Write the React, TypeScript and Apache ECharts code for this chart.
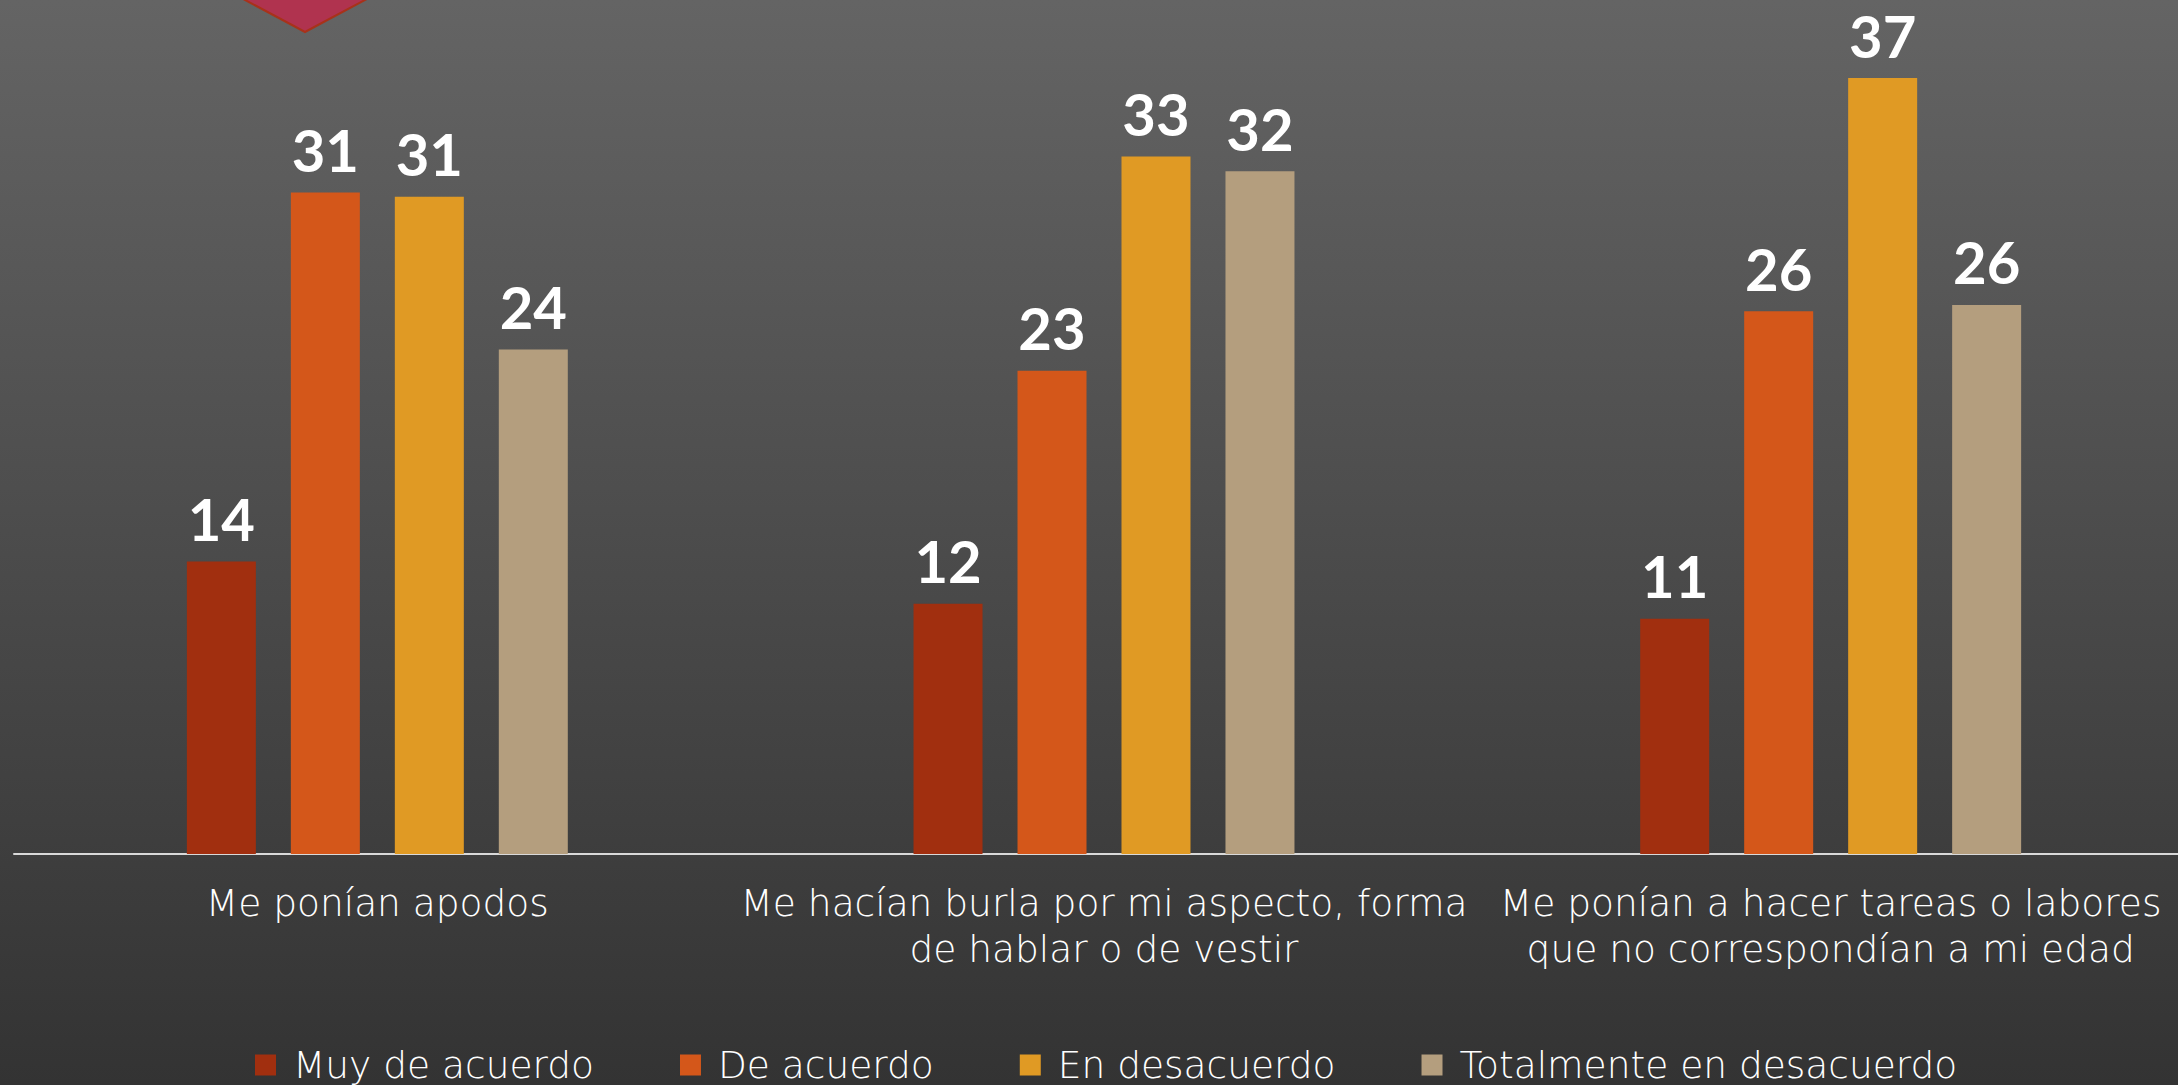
import React, { useEffect, useRef } from "react";
import * as echarts from "echarts";

const categories = [
  "Me ponían apodos",
  "Me hacían burla por mi aspecto, forma\nde hablar o de vestir",
  "Me ponían a hacer tareas o labores\nque no correspondían a mi edad",
];
const seriesNames = ["Muy de acuerdo", "De acuerdo", "En desacuerdo", "Totalmente en desacuerdo"];
const muyDeAcuerdo = [13.8, 11.8, 11.1];
const deAcuerdo = [31.2, 22.8, 25.6];
const enDesacuerdo = [31.0, 32.9, 36.6];
const totalmenteEnDesacuerdo = [23.8, 32.2, 25.9];
const seriesColors = ["#A12F0F", "#D4571A", "#E09A24", "#B49E7E"];

export default function App() {
  const ref = useRef<HTMLDivElement>(null);
  useEffect(() => {
    if (!ref.current) return;
    const chart = echarts.init(ref.current, null, { renderer: "svg" });
    const values = [muyDeAcuerdo, deAcuerdo, enDesacuerdo, totalmenteEnDesacuerdo];
    const series = seriesNames.map((name, i) => ({
      name,
      type: "bar",
      data: values[i],
      barWidth: 69,
      barGap: "50.7%",
      itemStyle: { color: seriesColors[i] },
      label: {
        show: true,
        position: "top",
        distance: 14,
        color: "#FFFFFF",
        fontFamily: "Lato",
        fontWeight: "bold",
        fontSize: 58,
        lineHeight: 58,
        formatter: (p: any) => String(Math.round(p.value)),
      },
    }));
    chart.setOption({
      animation: false,
      backgroundColor: {
        type: "linear",
        x: 0,
        y: 0,
        x2: 0,
        y2: 1,
        colorStops: [
          { offset: 0, color: "#646464" },
          { offset: 1, color: "#333333" },
        ],
      },
      grid: {
        left: 14,
        width: 2180,
        top: 6,
        height: 848,
        containLabel: false,
        outerBoundsMode: "none",
      },
      legend: {
        data: seriesNames,
        left: 250,
        top: 1041,
        icon: "rect",
        itemWidth: 21,
        itemHeight: 21,
        itemGap: 86,
        textStyle: {
          color: "#FFFFFF",
          fontFamily: "DejaVu Sans",
          fontWeight: 200,
          fontSize: 37.5,
          lineHeight: 30,
          padding: [0, 0, 0, 12],
        },
      },
      xAxis: {
        type: "category",
        data: categories,
        axisLine: { show: true, lineStyle: { color: "#D9D9D9", width: 2 } },
        axisTick: { show: false },
        axisLabel: {
          color: "#FFFFFF",
          fontFamily: "DejaVu Sans",
          fontWeight: 200,
          fontSize: 37.5,
          lineHeight: 46,
          margin: 26,
          interval: 0,
        },
      },
      yAxis: {
        type: "value",
        min: 0,
        max: 40,
        show: false,
        splitLine: { show: false },
      },
      graphic: [
        {
          type: "polygon",
          shape: { points: [[185, -32], [292, 25], [305, 32], [318, 25], [425, -32]], smooth: 0 },
          style: { fill: "#B0334F", stroke: "#A8321A", lineWidth: 2 },
          z: 10,
        },
      ],
      series,
    });
    return () => chart.dispose();
  }, []);
  return (
    <div
      ref={ref}
      style={{ position: "fixed", left: 0, top: 0, width: 2178, height: 1085 }}
    />
  );
}
